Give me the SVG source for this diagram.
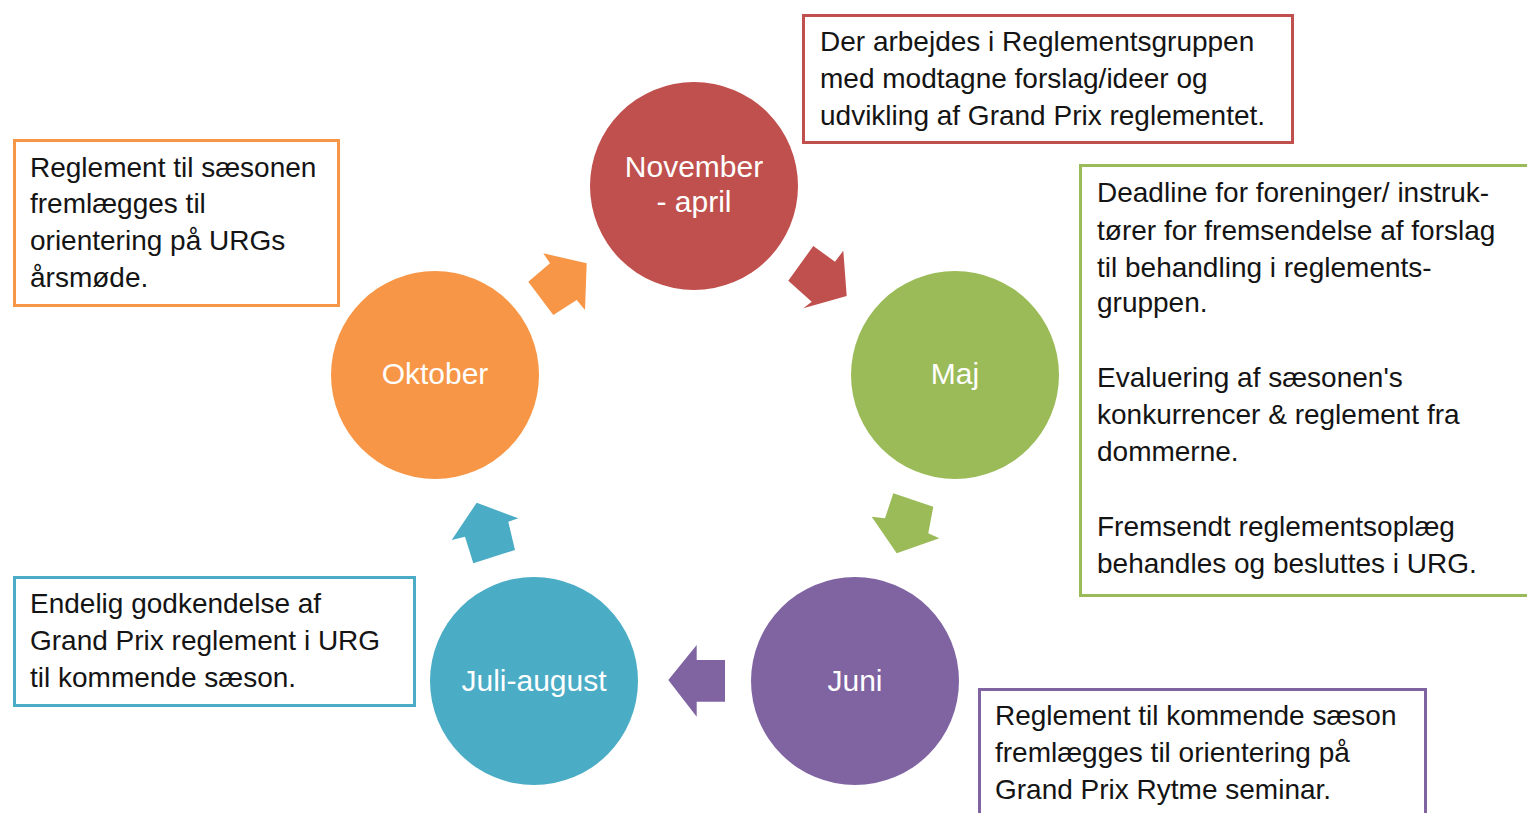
<svg xmlns="http://www.w3.org/2000/svg" width="1527" height="813" viewBox="0 0 1527 813">
<style>
.bg{fill:#ffffff}
.box{fill:#ffffff;stroke-width:3}
.txt{font-family:"Liberation Sans",Arial,sans-serif;font-size:28px;fill:#141414}
.lbl{font-family:"Liberation Sans",Arial,sans-serif;font-size:30px;fill:#ffffff;text-anchor:middle}
</style>
<rect class="bg" x="0" y="0" width="1527" height="813"/>
<g id="connectors">
<polygon fill="#C0504D" points="813.3,246 835,261.7 843.3,250.7 846.7,296 803.3,308.3 811.7,301.7 788.3,280.7"/>
<polygon fill="#9BBB59" points="893.3,493.3 933.3,506.7 928.3,533.3 939.3,538.3 896.7,553.3 871.7,516.7 885,518.3"/>
<polygon fill="#8064A2" points="725,660 725,701.7 696.7,701.7 696.7,716.7 668.3,680 696.7,645 696.7,660"/>
<polygon fill="#4BACC6" points="476.7,502.7 518.3,518.3 508.3,521.7 515,550 473.3,563.3 465,536.7 451.7,540"/>
<polygon fill="#F79646" points="553.3,315 576.7,300 585,310 586.7,263.3 543.3,253.3 550,263.3 528.3,281.7"/>
</g>
<g id="node-november">
<circle cx="694" cy="186" r="104" fill="#C0504D"/>
<text class="lbl" x="694" y="177">November</text>
<text class="lbl" x="694" y="212">- april</text>
</g>
<g id="node-maj">
<circle cx="955" cy="375" r="104" fill="#9BBB59"/>
<text class="lbl" x="955" y="384">Maj</text>
</g>
<g id="node-juni">
<circle cx="855" cy="681" r="104" fill="#8064A2"/>
<text class="lbl" x="855" y="691">Juni</text>
</g>
<g id="node-juli-august">
<circle cx="534" cy="681" r="104" fill="#4BACC6"/>
<text class="lbl" x="534" y="691">Juli-august</text>
</g>
<g id="node-oktober">
<circle cx="435" cy="375" r="104" fill="#F79646"/>
<text class="lbl" x="435" y="384">Oktober</text>
</g>
<g id="note-november">
<rect class="box" x="803.5" y="15.5" width="489" height="127" stroke="#C0504D"/>
<text class="txt" x="820" y="51">Der arbejdes i Reglementsgruppen</text>
<text class="txt" x="820" y="88">med modtagne forslag/ideer og</text>
<text class="txt" x="820" y="125">udvikling af Grand Prix reglementet.</text>
</g>
<g id="note-maj">
<rect class="box" x="1080.5" y="165.5" width="460" height="430" stroke="#9BBB59"/>
<text class="txt" x="1097" y="202">Deadline for foreninger/ instruk-</text>
<text class="txt" x="1097" y="240">tører for fremsendelse af forslag</text>
<text class="txt" x="1097" y="277">til behandling i reglements-</text>
<text class="txt" x="1097" y="312">gruppen.</text>
<text class="txt" x="1097" y="387">Evaluering af sæsonen's</text>
<text class="txt" x="1097" y="424">konkurrencer &amp; reglement fra</text>
<text class="txt" x="1097" y="461">dommerne.</text>
<text class="txt" x="1097" y="536">Fremsendt reglementsoplæg</text>
<text class="txt" x="1097" y="573">behandles og besluttes i URG.</text>
</g>
<g id="note-juni">
<rect class="box" x="979.5" y="689.5" width="446" height="140" stroke="#8064A2"/>
<text class="txt" x="995" y="725">Reglement til kommende sæson</text>
<text class="txt" x="995" y="762">fremlægges til orientering på</text>
<text class="txt" x="995" y="799">Grand Prix Rytme seminar.</text>
</g>
<g id="note-juli-august">
<rect class="box" x="14.5" y="577.5" width="400" height="128" stroke="#4BACC6"/>
<text class="txt" x="30" y="613">Endelig godkendelse af</text>
<text class="txt" x="30" y="650">Grand Prix reglement i URG</text>
<text class="txt" x="30" y="687">til kommende sæson.</text>
</g>
<g id="note-oktober">
<rect class="box" x="14.5" y="140.5" width="324" height="165" stroke="#F79646"/>
<text class="txt" x="30" y="177">Reglement til sæsonen</text>
<text class="txt" x="30" y="213">fremlægges til</text>
<text class="txt" x="30" y="250">orientering på URGs</text>
<text class="txt" x="30" y="287">årsmøde.</text>
</g>
</svg>
